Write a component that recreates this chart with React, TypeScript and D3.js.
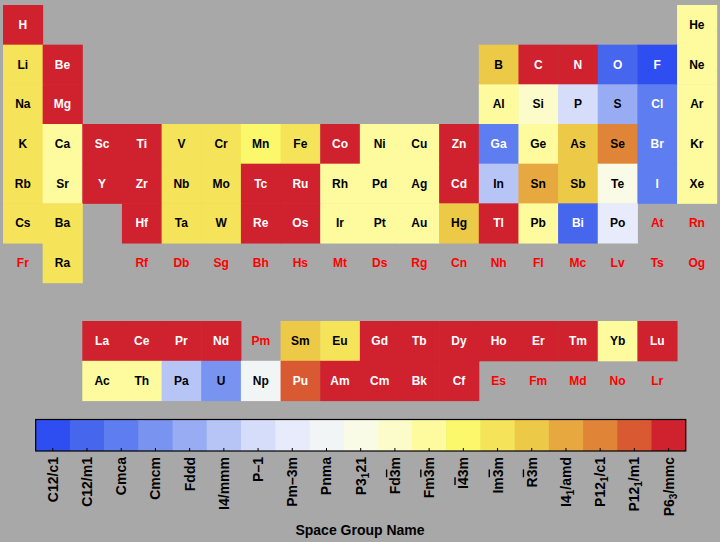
import React from "react";
import * as d3 from "d3";

// periodic table layout, one array per period ("" = empty slot)
const mainRows: string[][] = [
  ["H", "", "", "", "", "", "", "", "", "", "", "", "", "", "", "", "", "He"],
  ["Li", "Be", "", "", "", "", "", "", "", "", "", "", "B", "C", "N", "O", "F", "Ne"],
  ["Na", "Mg", "", "", "", "", "", "", "", "", "", "", "Al", "Si", "P", "S", "Cl", "Ar"],
  ["K", "Ca", "Sc", "Ti", "V", "Cr", "Mn", "Fe", "Co", "Ni", "Cu", "Zn", "Ga", "Ge", "As", "Se", "Br", "Kr"],
  ["Rb", "Sr", "Y", "Zr", "Nb", "Mo", "Tc", "Ru", "Rh", "Pd", "Ag", "Cd", "In", "Sn", "Sb", "Te", "I", "Xe"],
  ["Cs", "Ba", "", "Hf", "Ta", "W", "Re", "Os", "Ir", "Pt", "Au", "Hg", "Tl", "Pb", "Bi", "Po", "At", "Rn"],
  ["Fr", "Ra", "", "Rf", "Db", "Sg", "Bh", "Hs", "Mt", "Ds", "Rg", "Cn", "Nh", "Fl", "Mc", "Lv", "Ts", "Og"],
];
const lanthanides = ["La", "Ce", "Pr", "Nd", "Pm", "Sm", "Eu", "Gd", "Tb", "Dy", "Ho", "Er", "Tm", "Yb", "Lu"];
const actinides = ["Ac", "Th", "Pa", "U", "Np", "Pu", "Am", "Cm", "Bk", "Cf", "Es", "Fm", "Md", "No", "Lr"];

// colour bar categories, in order
const spaceGroups = [
  "C12/c1", "C12/m1", "Cmca", "Cmcm", "Fddd", "I4/mmm", "P-1", "Pm-3m", "Pnma", "P3_121",
  "Fd-3m", "Fm-3m", "I-43m", "Im-3m", "R-3m", "I4_1/amd", "P12_1/c1", "P12_1/m1", "P6_3/mmc",
];
const groupColors = [
  "#2f4ef1", "#4766ee", "#5e7df0", "#7893f0", "#98acf4", "#b6c4f6", "#d5ddfa", "#e7ebfb", "#f2f5f5", "#fafbe6",
  "#fcfccb", "#fdfb9e", "#fbf96b", "#f5e45a", "#edc948", "#e7a840", "#e08537", "#d95a32", "#cf212e",
];
// groups whose element labels are white
const darkGroups = ["C12/c1", "C12/m1", "Cmca", "P12_1/m1", "P6_3/mmc"];

// tick labels: [text, style] pieces; "sub" = subscript, "bar" = overbar
const tickLabels: [string, string][][] = [
  [["C12/c1", ""]],
  [["C12/m1", ""]],
  [["Cmca", ""]],
  [["Cmcm", ""]],
  [["Fddd", ""]],
  [["I4/mmm", ""]],
  [["P\u20131", ""]],
  [["Pm\u20133m", ""]],
  [["Pnma", ""]],
  [["P3", ""], ["1", "sub"], ["21", ""]],
  [["Fd", ""], ["3", "bar"], ["m", ""]],
  [["Fm", ""], ["3", "bar"], ["m", ""]],
  [["I", ""], ["4", "bar"], ["3m", ""]],
  [["Im", ""], ["3", "bar"], ["m", ""]],
  [["R", ""], ["3", "bar"], ["m", ""]],
  [["I4", ""], ["1", "sub"], ["/amd", ""]],
  [["P12", ""], ["1", "sub"], ["/c1", ""]],
  [["P12", ""], ["1", "sub"], ["/m1", ""]],
  [["P6", ""], ["3", "sub"], ["/mmc", ""]],
];

// ground-state space group of each element with data
const elementGroups: Record<string, string> = {
  H: "P6_3/mmc", He: "Fm-3m", Li: "Im-3m", Be: "P6_3/mmc", B: "R-3m", C: "P6_3/mmc", N: "P6_3/mmc",
  O: "C12/m1", F: "C12/c1", Ne: "Fm-3m", Na: "Im-3m", Mg: "P6_3/mmc", Al: "Fm-3m", Si: "Fd-3m",
  P: "P-1", S: "Fddd", Cl: "Cmca", Ar: "Fm-3m", K: "Im-3m", Ca: "Fm-3m", Sc: "P6_3/mmc", Ti: "P6_3/mmc",
  V: "Im-3m", Cr: "Im-3m", Mn: "I-43m", Fe: "Im-3m", Co: "P6_3/mmc", Ni: "Fm-3m", Cu: "Fm-3m",
  Zn: "P6_3/mmc", Ga: "Cmca", Ge: "Fm-3m", As: "R-3m", Se: "P12_1/c1", Br: "Cmca", Kr: "Fm-3m",
  Rb: "Im-3m", Sr: "Fm-3m", Y: "P6_3/mmc", Zr: "P6_3/mmc", Nb: "Im-3m", Mo: "Im-3m", Tc: "P6_3/mmc",
  Ru: "P6_3/mmc", Rh: "Fm-3m", Pd: "Fm-3m", Ag: "Fm-3m", Cd: "P6_3/mmc", In: "I4/mmm", Sn: "I4_1/amd",
  Sb: "R-3m", Te: "P3_121", I: "Cmca", Xe: "Fm-3m", Cs: "Im-3m", Ba: "Im-3m", Hf: "P6_3/mmc",
  Ta: "Im-3m", W: "Im-3m", Re: "P6_3/mmc", Os: "P6_3/mmc", Ir: "Fm-3m", Pt: "Fm-3m", Au: "Fm-3m",
  Hg: "R-3m", Tl: "P6_3/mmc", Pb: "Fm-3m", Bi: "C12/m1", Po: "Pm-3m", Ra: "Im-3m",
  La: "P6_3/mmc", Ce: "P6_3/mmc", Pr: "P6_3/mmc", Nd: "P6_3/mmc", Sm: "R-3m", Eu: "Im-3m",
  Gd: "P6_3/mmc", Tb: "P6_3/mmc", Dy: "P6_3/mmc", Ho: "P6_3/mmc", Er: "P6_3/mmc", Tm: "P6_3/mmc",
  Yb: "Fm-3m", Lu: "P6_3/mmc", Ac: "Fm-3m", Th: "Fm-3m", Pa: "I4/mmm", U: "Cmcm", Np: "Pnma",
  Pu: "P12_1/m1", Am: "P6_3/mmc", Cm: "P6_3/mmc", Bk: "P6_3/mmc", Cf: "P6_3/mmc",
};

const width = 720;
const height = 542;
const font = "'Liberation Sans', Arial, Helvetica, sans-serif";

type Cell = { sym: string; x: number; y: number; w: number; h: number };

export default function App() {
  const colX = d3.scaleBand<number>().domain(d3.range(18)).range([3, 716.7]);
  const rowY = d3.scaleBand<number>().domain(d3.range(7)).range([5, 282.7]);
  const fX = d3.scaleBand<number>().domain(d3.range(15)).range([colX(2)!, colX(2)! + 15 * colX.bandwidth()]);
  const fY = d3.scaleBand<string>().domain(["La", "Ac"]).range([321, 400.6]);
  const color = d3.scaleOrdinal<string, string>().domain(spaceGroups).range(groupColors);
  const barX = d3.scaleBand<string>().domain(spaceGroups).range([35.7, 685.7]);
  const barTop = 419.5;
  const barH = 31.5;

  const cells: Cell[] = [];
  mainRows.forEach((row, r) =>
    row.forEach((sym, c) => {
      if (sym) cells.push({ sym, x: colX(c)!, y: rowY(r)!, w: colX.bandwidth(), h: rowY.bandwidth() });
    })
  );
  [lanthanides, actinides].forEach((row, r) =>
    row.forEach((sym, c) =>
      cells.push({ sym, x: fX(c)!, y: fY(r === 0 ? "La" : "Ac")!, w: fX.bandwidth(), h: fY.bandwidth() })
    )
  );

  const textColor = (sym: string) => {
    const g = elementGroups[sym];
    if (!g) return "#ff0000";
    return darkGroups.includes(g) ? "#ffffff" : "#000000";
  };

  return (
    <svg
      width={width}
      height={height}
      style={{ position: "absolute", left: 0, top: 0, background: "#a8a8a8", fontFamily: font }}
    >
      <g>
        {cells.map((d) =>
          elementGroups[d.sym] ? (
            <rect key={"r" + d.sym} x={d.x} y={d.y} width={d.w + 0.5} height={d.h + 0.5} fill={color(elementGroups[d.sym])} />
          ) : null
        )}
        {cells.map((d) => (
          <text
            key={"t" + d.sym}
            x={d.x + d.w / 2}
            y={d.y + d.h / 2 + 4}
            textAnchor="middle"
            fontSize={12}
            fontWeight="bold"
            fill={textColor(d.sym)}
          >
            {d.sym}
          </text>
        ))}
      </g>
      <g>
        {spaceGroups.map((g) => (
          <rect key={g} x={barX(g)} y={barTop} width={barX.bandwidth() + 0.5} height={barH} fill={color(g)} />
        ))}
        <rect x={35.7} y={barTop} width={650} height={barH} fill="none" stroke="#000" strokeWidth={1.2} />
        {spaceGroups.map((g) => {
          const cx = barX(g)! + barX.bandwidth() / 2;
          return <line key={"k" + g} x1={cx} x2={cx} y1={barTop + barH} y2={barTop + barH - 3} stroke="#000" strokeWidth={1} />;
        })}
        {spaceGroups.map((g, i) => {
          const cx = barX(g)! + barX.bandwidth() / 2;
          return (
            <text
              key={"l" + g}
              transform={`translate(${cx + 5},457) rotate(-90)`}
              textAnchor="end"
              fontSize={14}
              fontWeight="bold"
              fill="#000"
            >
              {tickLabels[i].map(([txt, kind], j) => {
                const prev = j > 0 ? tickLabels[i][j - 1][1] : "";
                if (kind === "sub")
                  return (
                    <tspan key={j} dy={3} fontSize={10}>
                      {txt}
                    </tspan>
                  );
                if (kind === "bar")
                  return (
                    <tspan key={j} style={{ textDecoration: "overline" }}>
                      {txt}
                    </tspan>
                  );
                return (
                  <tspan key={j} dy={prev === "sub" ? -3 : 0}>
                    {txt}
                  </tspan>
                );
              })}
            </text>
          );
        })}
        <text x={360} y={535} textAnchor="middle" fontSize={14} fontWeight="bold" fill="#000">
          Space Group Name
        </text>
      </g>
    </svg>
  );
}
